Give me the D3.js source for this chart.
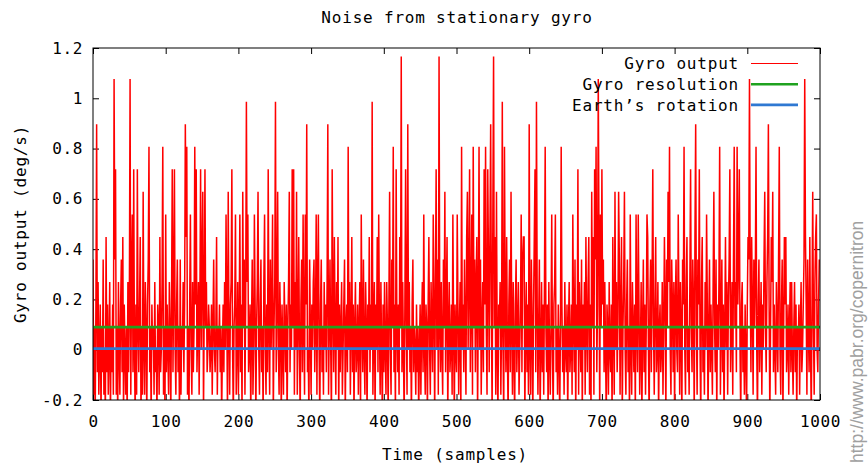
<!DOCTYPE html>
<html>
<head>
<meta charset="utf-8">
<script src="https://cdn.jsdelivr.net/npm/d3@7"></script>
<style>
  body { margin: 0; background: #fff; }
  text { font-family: "DejaVu Sans Mono", "Liberation Mono", monospace; }
</style>
</head>
<body>
<svg id="gyroChart" width="868" height="466"></svg>
<script>
// raw gyro readings, in counts of the gyro resolution
var gyroCounts = [
  4,-2,1,-3,2,10,-1,3,-2,0,2,-3,1,-1,4,-2,0,-3,5,-1,
  2,-2,0,3,-3,1,-1,2,-2,12,4,8,-2,1,-3,3,0,-2,2,4,
  -1,5,-3,2,0,-2,1,-3,3,-1,2,12,-2,3,6,-1,8,0,-3,2,
  -2,8,1,-1,2,5,-3,1,-2,7,0,-2,3,1,-3,2,4,9,-1,1,
  -3,2,0,1,-2,3,-1,0,-3,2,1,-2,5,-1,0,3,9,-2,1,-3,
  6,-1,2,0,-2,3,1,-3,2,8,-1,3,8,0,-2,2,4,-1,1,-3,
  4,-2,1,0,3,-1,2,10,5,9,-2,1,-3,2,6,0,-2,3,-1,1,
  9,2,8,-1,1,3,-2,2,8,0,4,7,-3,2,8,1,3,-1,0,2,
  1,-1,0,2,-2,1,4,0,-1,1,5,-2,1,0,2,-1,1,-3,0,2,
  -1,3,0,6,2,-3,7,1,-2,2,3,8,0,-3,1,2,6,-2,0,3,
  -2,1,6,-1,2,-3,7,1,4,-2,2,11,3,6,-1,0,2,-3,1,4,
  -2,0,6,2,-3,1,3,7,0,-2,2,4,-1,1,-3,3,6,0,-2,2,
  -1,8,1,-2,4,0,2,6,-3,1,3,11,-1,2,7,0,-2,3,1,-3,
  2,0,-2,3,1,-1,2,-3,1,3,7,-1,2,0,8,1,8,-2,3,0,
  7,-2,1,5,0,-3,2,4,-1,6,1,-2,6,2,10,-1,0,-3,4,1,
  -2,2,0,3,4,-1,1,6,-2,3,6,0,-3,2,4,-1,1,-2,3,0,
  2,-1,3,10,-2,1,4,0,-3,8,2,-1,5,1,-2,3,0,5,-3,2,
  -1,1,3,-2,0,2,4,-3,1,2,-1,9,0,3,-2,1,5,-1,2,-3,
  1,3,-1,0,2,-2,1,3,-3,6,1,-1,4,0,-2,3,1,-3,2,0,
  5,-1,2,0,11,-2,1,3,-3,2,0,5,-1,6,1,-2,3,0,-3,2,
  -1,3,0,-2,3,1,-3,2,7,0,-2,4,1,9,-1,2,-3,8,1,-1,
  2,-2,5,1,13,-1,3,0,-3,2,8,1,-2,10,0,3,-1,1,-3,2,
  4,-1,1,0,-2,2,-1,1,-3,0,2,-2,1,3,-1,6,0,-2,2,1,
  -3,2,5,0,-2,3,1,-1,6,2,-3,3,8,0,4,-2,13,1,-1,3,
  0,-2,4,1,7,-1,2,5,-3,1,3,-1,0,2,-2,6,1,-3,2,0,
  -1,6,2,-2,1,3,-3,9,0,2,-1,4,1,-2,5,7,0,3,8,-1,
  2,6,-2,9,1,4,-1,3,5,-3,2,9,0,4,-2,1,3,-1,8,2,
  9,1,-2,8,4,-1,5,10,2,-3,6,13,1,5,-2,7,0,-3,2,1,
  3,-2,1,11,0,-3,9,2,-1,5,0,-3,2,4,-1,7,1,-2,3,0,
  -3,2,4,-1,1,3,-2,0,2,6,-1,4,5,5,-3,1,3,-1,2,-2,
  10,0,-2,4,1,-3,2,5,8,-1,11,2,-2,1,4,-3,0,3,-1,2,
  -2,3,9,1,-1,2,-3,3,0,-2,1,6,0,-3,2,3,6,-1,1,-2,
  2,0,-3,1,9,2,-1,1,-2,3,0,-1,2,-3,1,3,-1,0,2,-2,
  6,1,-1,4,-3,2,0,8,-2,3,1,-1,4,-3,2,0,3,-2,5,1,
  -1,3,5,-2,2,-3,7,1,5,-2,8,4,9,-1,2,12,5,-3,6,1,
  8,2,4,-1,3,0,-3,2,1,-2,3,0,-1,2,-3,5,1,-2,7,0,
  3,-1,1,7,4,-2,2,5,-3,1,3,7,0,-2,2,4,-1,1,-3,6,
  0,-2,3,1,-1,2,-3,6,1,-1,6,2,-2,0,3,-3,1,4,-1,2,
  -2,1,6,5,0,-3,2,4,-1,3,8,1,-2,2,5,-1,0,3,-3,1,
  2,-1,0,3,-2,1,5,2,-3,4,1,7,3,9,0,-2,4,2,-1,3,
  -3,2,4,0,-1,6,2,-2,3,1,-3,4,2,9,0,-2,3,5,-1,1,
  -2,3,8,1,-1,4,2,-3,5,10,1,-2,4,2,8,0,-3,3,5,-1,
  1,-2,3,0,6,2,-3,1,4,-1,2,0,-2,3,7,1,-1,4,-3,2,
  0,3,9,-2,1,4,-1,2,-3,1,5,0,3,-2,2,4,8,-1,1,3,
  -2,4,9,1,3,-1,9,2,4,8,0,-3,2,3,-1,1,-2,2,0,-3,
  2,5,4,12,3,-1,5,2,-2,4,1,3,9,0,-3,2,4,-1,1,3,
  -2,2,0,4,7,1,-1,3,5,10,2,-3,1,5,3,7,-1,2,0,-2,
  3,1,-1,4,9,0,-2,2,4,-3,1,5,2,5,-1,0,2,-2,1,3,
  -1,3,0,-2,1,3,-1,2,-3,1,0,2,-2,1,3,-1,0,2,4,12,
  5,2,-2,4,1,-1,5,0,-3,2,7,1,-2,3,5,6,0,-1,2,4
];

var gyroResolution = 0.0897;   // deg/s per count
var earthRotation = 0.0042;    // deg/s (15 deg/h)

var xTicks = [0, 100, 200, 300, 400, 500, 600, 700, 800, 900, 1000];
var yTicks = [-0.2, 0, 0.2, 0.4, 0.6, 0.8, 1, 1.2];

var legendNames = ["Gyro output", "Gyro resolution", "Earth\u2019s rotation"];
var legendColors = ["#ff0000", "#1fa21f", "#2f78d2"];

var svg = d3.select("#gyroChart"),
  margin = { top: 48, right: 48, bottom: 66, left: 93 },
  width = +svg.attr("width") - margin.left - margin.right,
  height = +svg.attr("height") - margin.top - margin.bottom,
  g = svg.append("g").attr("transform", "translate(" + margin.left + "," + margin.top + ")");

svg.append("rect").attr("width", 868).attr("height", 466).attr("fill", "#fff").lower();

var x = d3.scaleLinear().domain([0, 1000]).range([0, width]);
var y = d3.scaleLinear().domain([-0.2, 1.2]).range([height, 0]);

var data = gyroCounts.map((c, i) => ({ t: i, v: c * gyroResolution }));

g.append("clipPath").attr("id", "plotClip")
  .append("rect").attr("width", width).attr("height", height);

var line = d3.line()
  .x(d => x(d.t))
  .y(d => y(d.v));

var yFormat = d => String(+d.toFixed(1));

var styleAxis = function(sel, labels) {
  sel.select(".domain").remove();
  sel.selectAll(".tick line").attr("stroke", "#000");
  sel.selectAll("text")
    .attr("fill", "#000")
    .style("font-family", "'DejaVu Sans Mono', monospace")
    .style("font-size", "16px")
    .style("letter-spacing", "0.6px");
  if (!labels) { sel.selectAll("text").remove(); }
};

g.append("g")
    .attr("transform", `translate(0,${height})`)
    .call(d3.axisBottom(x).tickValues(xTicks).tickFormat(d3.format("d")).tickSize(-6).tickPadding(16))
    .call(s => styleAxis(s, true));

g.append("g")
    .call(d3.axisTop(x).tickValues(xTicks).tickSize(-6))
    .call(s => styleAxis(s, false));

g.append("g")
    .call(d3.axisLeft(y).tickValues(yTicks).tickFormat(yFormat).tickSize(-6).tickPadding(10))
    .call(s => styleAxis(s, true));

g.append("g")
    .attr("transform", `translate(${width},0)`)
    .call(d3.axisRight(y).tickValues(yTicks).tickSize(-6))
    .call(s => styleAxis(s, false));

var plot = g.append("g").attr("clip-path", "url(#plotClip)");

plot.append("path")
  .datum(data)
  .attr("fill", "none")
  .attr("stroke", legendColors[0])
  .attr("stroke-width", 1.5)
  .attr("d", line);

plot.append("line")
  .attr("x1", 0).attr("x2", width)
  .attr("y1", y(gyroResolution)).attr("y2", y(gyroResolution))
  .attr("stroke", legendColors[1])
  .attr("stroke-width", 2.6);

plot.append("line")
  .attr("x1", 0).attr("x2", width)
  .attr("y1", y(earthRotation)).attr("y2", y(earthRotation))
  .attr("stroke", legendColors[2])
  .attr("stroke-width", 2.6);

g.append("rect")
  .attr("width", width).attr("height", height)
  .attr("fill", "none")
  .attr("stroke", "#000")
  .attr("stroke-width", 1);

// legend, no box, top right
var legend = g.selectAll(".legend")
    .data(legendNames)
  .enter().append("g")
    .attr("class", "legend")
    .attr("transform", (d, i) => `translate(0,${15.5 + i * 20.7})`);

legend.append("text")
  .attr("x", 646)
  .attr("dy", "0.35em")
  .attr("text-anchor", "end")
  .attr("fill", "#000")
  .style("font-size", "16px")
  .style("letter-spacing", "0.8px")
  .text(d => d);

legend.append("line")
  .attr("x1", 658).attr("x2", 705)
  .attr("stroke", (d, i) => legendColors[i])
  .attr("stroke-width", (d, i) => i === 0 ? 1 : 2.6);

svg.append("text")
  .attr("x", 457).attr("y", 17)
  .attr("dy", "0.35em")
  .attr("text-anchor", "middle")
  .style("font-size", "16px")
  .style("letter-spacing", "0.8px")
  .text("Noise from stationary gyro");

svg.append("text")
  .attr("x", 455).attr("y", 454)
  .attr("dy", "0.35em")
  .attr("text-anchor", "middle")
  .style("font-size", "16px")
  .style("letter-spacing", "0.8px")
  .text("Time (samples)");

svg.append("text")
  .attr("transform", "translate(20,224) rotate(-90)")
  .attr("dy", "0.35em")
  .attr("text-anchor", "middle")
  .style("font-size", "16px")
  .style("letter-spacing", "0.8px")
  .text("Gyro output (deg/s)");

svg.append("text")
  .attr("transform", "translate(857,463) rotate(-90)")
  .attr("dy", "0.35em")
  .attr("text-anchor", "start")
  .attr("fill", "#a0a0a0")
  .style("font-family", "'Liberation Sans', Arial, sans-serif")
  .style("font-size", "17.5px")
  .text("http://www.pabr.org/copernitron");
</script>
</body>
</html>
